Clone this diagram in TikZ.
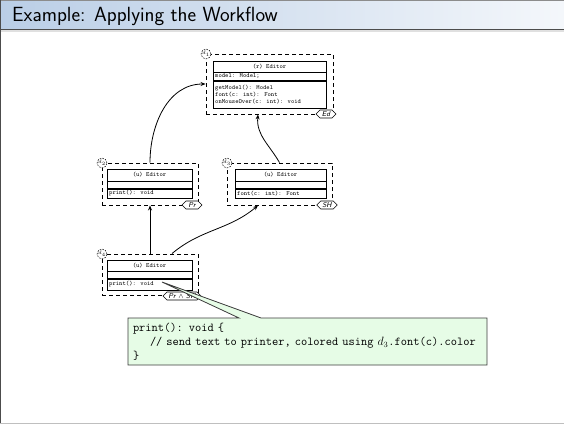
\documentclass[tikz,border=0pt]{standalone}
\usetikzlibrary{shapes.symbols,shapes.callouts,arrows.meta}
\definecolor{barleft}{RGB}{186,206,230}
\definecolor{barright}{RGB}{244,247,251}
\definecolor{notefill}{RGB}{230,252,230}
\definecolor{noteline}{RGB}{60,60,60}
\tikzset{
  dashframe/.style={draw, dash pattern=on 4pt off 3pt, line width=0.9pt, inner sep=0pt},
  umlbox/.style={draw, line width=0.8pt, fill=white, inner sep=0pt},
  umlsep/.style={line width=0.7pt},
  feat/.style={signal, signal to=west and east, draw, fill=white, line width=0.6pt,
    font=\fontsize{7}{7}\sffamily\itshape, inner xsep=1.5pt, inner ysep=0.5pt, minimum height=8pt},
  dlabel/.style={circle, draw, dash pattern=on 1.6pt off 1.2pt, line width=0.5pt, fill=white,
    inner sep=0.3pt, minimum size=9.5pt, font=\fontsize{5}{5}\selectfont},
  arr/.style={-{Stealth[length=5pt,width=4pt]}, line width=0.8pt},
  umltext/.style={font=\fontsize{6.3}{7}\ttfamily, inner sep=0pt},
  headtext/.style={font=\fontsize{6.3}{7}\ttfamily, inner sep=0pt},
  note/.style={rectangle callout, draw=noteline, fill=notefill, line width=0.8pt,
    callout pointer width=22pt, inner xsep=5pt, inner ysep=0pt,
    minimum width=359pt, minimum height=47pt, text width=349pt, align=left,
    font=\fontsize{12.1}{14}\ttfamily},
}
\begin{document}
\begin{tikzpicture}[x=1pt,y=-1pt]
\useasboundingbox (0,0) rectangle (564,424);

% frame title bar
\shade[left color=barleft, right color=barright] (0,0) rectangle (564,29);
\fill[black!12] (0,29) rectangle (564,32);
\draw[black!45, line width=0.6pt] (0,0.3) -- (564,0.3);
\draw[black!70, line width=1pt] (0,29) -- (564,29);
\draw[black!70, line width=1pt] (0.5,0) -- (0.5,424);
\draw[black!25, line width=0.8pt] (0,423.5) -- (564,423.5);
\node[anchor=base west, inner sep=0pt, font=\fontsize{20.5}{22}\sffamily] (title) at (12,21) {Example: Applying the Workflow};

% d1: (r) Editor
\node[dashframe, minimum width=127pt, minimum height=60pt] (d1) at (269.5,84) {};
\node[umlbox, minimum width=113pt, minimum height=47pt] (c1) at (269.5,84.5) {};
\draw[umlsep] (213,72) -- (326,72);
\draw[umlsep, line width=1.1pt] (213,81) -- (326,81);
\node[headtext] (h1) at (269.5,66.5) {(r) Editor};
\node[umltext, anchor=west] (a1) at (215,76.5) {model: Model;};
\node[umltext, anchor=north west, align=left] (m1) at (215,85) {getModel(): Model\\font(c: int): Font\\onMouseOver(c: int): void};
\node[feat, minimum width=20pt] (f1) at (326,114) {Ed};
\node[dlabel] (l1) at (206,54) {$d_1$};

% d2: (u) Editor, Pr
\node[dashframe, minimum width=96pt, minimum height=42pt] (d2) at (150,184) {};
\node[umlbox, minimum width=85pt, minimum height=29pt] (c2) at (149.5,183.5) {};
\draw[umlsep] (107,181) -- (192,181);
\draw[umlsep, line width=1.1pt] (107,189) -- (192,189);
\node[headtext] (h2) at (149.5,175) {(u) Editor};
\node[umltext, anchor=west] (m2) at (109,193.5) {print(): void};
\node[feat, minimum width=20pt] (f2) at (192,205) {Pr};
\node[dlabel] (l2) at (102,163) {$d_2$};

% d3: (u) Editor, SH
\node[dashframe, minimum width=105pt, minimum height=42pt] (d3) at (279.5,184) {};
\node[umlbox, minimum width=91pt, minimum height=29pt] (c3) at (280.5,183.5) {};
\draw[umlsep] (235,181) -- (326,181);
\draw[umlsep, line width=1.1pt] (235,189) -- (326,189);
\node[headtext] (h3) at (280.5,175) {(u) Editor};
\node[umltext, anchor=west] (m3) at (237,193.5) {font(c: int): Font};
\node[feat, minimum width=20pt] (f3) at (327,205) {SH};
\node[dlabel] (l3) at (227,163) {$d_3$};

% d4: (u) Editor, Pr and SH
\node[dashframe, minimum width=96pt, minimum height=41pt] (d4) at (150,274.5) {};
\node[umlbox, minimum width=85pt, minimum height=30pt] (c4) at (149.5,275) {};
\draw[umlsep] (107,271) -- (192,271);
\draw[umlsep, line width=1.1pt] (107,279) -- (192,279);
\node[headtext] (h4) at (149.5,265.5) {(u) Editor};
\node[umltext, anchor=west] (m4) at (109,284.5) {print(): void};
\node[feat, minimum width=30pt] (f4) at (182,296) {Pr $\wedge$ SH};
\node[dlabel] (l4) at (102,254) {$d_4$};

% refinement arrows
\draw[arr] (d4.north) -- (d2.south);
\draw[arr] ([xshift=22pt]d4.north) to[out=40, in=-140] ([xshift=-21.5pt]d3.south);
\draw[arr] (d2.north) to[out=90, in=180] (d1.west);
\draw[arr] (d3.north) to[out=120, in=-95] ([xshift=-11.5pt]d1.south);

% code note
\coordinate (tip) at (162,282);
\node[note, callout absolute pointer={(tip)}] (code) at (307.5,341.5)
  {print(): void \{\\\hspace*{17pt}// send text to printer, colored using $d_3$.font(c).color\\\}};
\end{tikzpicture}
\end{document}
